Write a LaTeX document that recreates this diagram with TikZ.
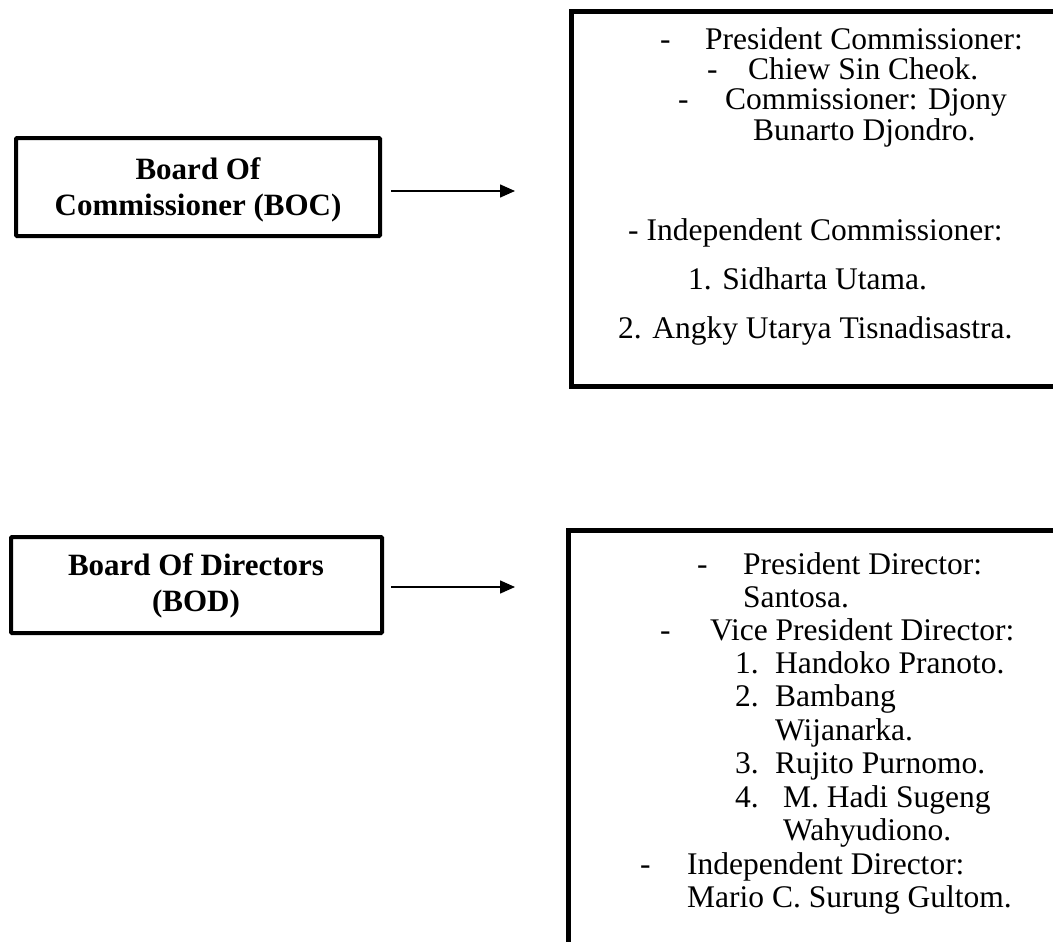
\documentclass[tikz,border=0pt]{standalone}
\usepackage{fontspec}
\setmainfont{Liberation Serif}
\usetikzlibrary{arrows.meta}
\begin{document}
\begin{tikzpicture}[x=1pt,y=-1pt,
  leftbox/.style={draw,line width=4pt,rounded corners=1pt},
  rightbox/.style={draw,line width=5pt},
  bold/.style={font=\fontsize{31}{36}\selectfont\bfseries,align=center},
  txt/.style={font=\fontsize{31.5}{33}\selectfont,anchor=base west,inner sep=0pt},
  conn/.style={line width=1.5pt,-{Triangle[length=15pt,width=13pt]}}]
\useasboundingbox (0,0) rectangle (1053,942);
% left boxes
\draw[leftbox] (16,138) rectangle (380,236);
\node[bold] (boc) at (198,190) {Board Of\\Commissioner (BOC)};
\draw[leftbox] (11,537) rectangle (382,633);
\node[bold] (bod) at (196,586) {Board Of Directors\\(BOD)};
% right boxes
\draw[rightbox] (1075,12) -- (571.5,12) -- (571.5,386.5) -- (1075,386.5);
\draw[rightbox] (1075,530) -- (568.5,530) -- (568.5,960);
% arrows
\coordinate (a1s) at (391,191);
\coordinate (a1e) at (515,191);
\draw[conn] (a1s) -- (a1e);
\coordinate (a2s) at (391,587);
\coordinate (a2e) at (515,587);
\draw[conn] (a2s) -- (a2e);
% top box text
\node[txt] (t1d) at (660,50) {-};
\node[txt] (t1) at (705,50) {President Commissioner:};
\node[txt] (t2d) at (707,80) {-};
\node[txt] (t2) at (748,80) {Chiew Sin Cheok.};
\node[txt] (t3d) at (678,110) {-};
\node[txt] (t3) at (725,110) {Commissioner: Djony};
\node[txt] (t4) at (753,140) {Bunarto Djondro.};
\node[txt] (t5) at (628,240) {- Independent Commissioner:};
\node[txt] (t6) at (688,289) {1. Sidharta Utama.};
\node[txt] (t7) at (618,338) {2. Angky Utarya Tisnadisastra.};
% bottom box text
\node[txt] (b1d) at (697,574) {-};
\node[txt] (b1) at (743,574) {President Director:};
\node[txt] (b2) at (743,607) {Santosa.};
\node[txt] (b3d) at (660,640) {-};
\node[txt] (b3) at (710,640) {Vice President Director:};
\node[txt] (b4n) at (735,673) {1.};
\node[txt] (b4) at (775,673) {Handoko Pranoto.};
\node[txt] (b5n) at (735,706) {2.};
\node[txt] (b5) at (775,706) {Bambang};
\node[txt] (b6) at (775,740) {Wijanarka.};
\node[txt] (b7n) at (735,773) {3.};
\node[txt] (b7) at (775,773) {Rujito Purnomo.};
\node[txt] (b8n) at (735,807) {4.};
\node[txt] (b8) at (783,807) {M. Hadi Sugeng};
\node[txt] (b9) at (783,840) {Wahyudiono.};
\node[txt] (b10d) at (640,874) {-};
\node[txt] (b10) at (687,874) {Independent Director:};
\node[txt] (b11) at (687,907) {Mario C. Surung Gultom.};
\end{tikzpicture}
\end{document}
